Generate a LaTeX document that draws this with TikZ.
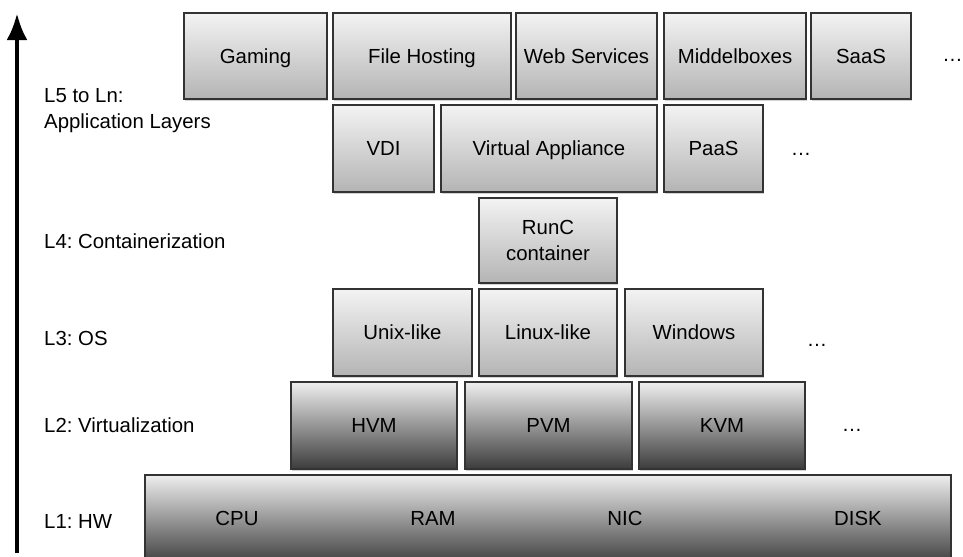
\documentclass[tikz,border=0pt]{standalone}
\usepackage{fontspec}
\setmainfont{Liberation Sans}
\usetikzlibrary{arrows.meta,shadows}

\definecolor{lighttop}{HTML}{F3F3F3}
\definecolor{lightbot}{HTML}{B4B4B4}
\definecolor{darktop}{HTML}{EEEEEE}
\definecolor{darkbot}{HTML}{3C3C3C}
\definecolor{boxline}{HTML}{333333}

\tikzset{
  layerbox/.style={draw=boxline, line width=0.8pt, rectangle, inner sep=0pt,
    align=center, text height=8.3pt, text depth=0pt,
    drop shadow={shadow xshift=0.6pt, shadow yshift=-0.9pt, opacity=0.35}},
  lightbox/.style={layerbox, top color=lighttop, bottom color=lightbot},
  darkbox/.style={layerbox, top color=darktop, bottom color=darkbot},
  boxsize/.style 2 args={minimum width=#1*0.02cm, minimum height=#2*0.02cm},
  hwpart/.style={inner sep=0pt, text height=8.3pt, text depth=0pt},
  layerlabel/.style={anchor=west, align=left},
  moredots/.style={inner sep=0pt}
}

\begin{document}
\frenchspacing
\begin{tikzpicture}[x=0.02cm, y=-0.02cm,
    font=\fontsize{11.6}{14.7}\selectfont]
   %
   \useasboundingbox (0,0) rectangle (963,556);
   \clip (0,0) rectangle (963,556);
   %
   % L5 to Ln
   \node[lightbox, boxsize={143}{86}] (gaming) at (255.5,56) {Gaming};
   \node[lightbox, boxsize={178}{86}] (filehost) at (422,56) {File Hosting};
   \node[lightbox, boxsize={141}{86}] (websvc) at (586.5,56) {Web Services};
   \node[lightbox, boxsize={142}{86}] (middlebox) at (735,56) {Middelboxes};
   \node[lightbox, boxsize={100}{86}] (saas) at (861,56) {SaaS};
   \node[moredots, anchor=west] (dotsA) at (942,60) {\dots};
   %
   \node[lightbox, boxsize={101}{87}] (vdi) at (383.5,148.5) {VDI};
   \node[lightbox, boxsize={216}{87}] (vappl) at (549,148.5) {Virtual Appliance};
   \node[lightbox, boxsize={99}{87}] (paas) at (713.5,148.5) {PaaS};
   \node[moredots] (dotsB) at (801,154) {\dots};
   %
   % L4
   \node[lightbox, boxsize={138}{85}, text height={}, text depth={}] (runc) at (548,240.5) {RunC\\container};
   %
   % L3
   \node[lightbox, boxsize={139}{87}] (unix) at (402.5,332.5) {Unix-like};
   \node[lightbox, boxsize={138}{87}] (linux) at (548,332.5) {Linux-like};
   \node[lightbox, boxsize={138}{87}] (windows) at (694,332.5) {Windows};
   \node[moredots] (dotsC) at (817,345) {\dots};
   %
   % L2
   \node[darkbox, boxsize={166}{87}] (hvm) at (374,425.5) {HVM};
   \node[darkbox, boxsize={167}{87}] (pvm) at (548.5,425.5) {PVM};
   \node[darkbox, boxsize={166}{87}] (kvm) at (722,425.5) {KVM};
   \node[moredots] (dotsD) at (852,430) {\dots};
   %
   % L1
   \node[darkbox, boxsize={806}{90}] (hw) at (548,520) {};
   \node[hwpart] (cpu) at (237,518) {CPU};
   \node[hwpart] (ram) at (433,518) {RAM};
   \node[hwpart] (nic) at (625,518) {NIC};
   \node[hwpart] (disk) at (858,518) {DISK};
   %
   % layer axis
   \coordinate (axisbot) at (17,553);
   \coordinate (axistop) at (17,13);
   \draw[line width=2.7pt, -{Latex[length=0.54cm, width=0.42cm]}] (axisbot) -- (axistop);
   %
   \node[layerlabel] (lapp) at (38,111) {L5 to Ln:\\Application Layers};
   \node[layerlabel] (lcont) at (38,241) {L4: Containerization};
   \node[layerlabel] (los) at (38,338) {L3: OS};
   \node[layerlabel] (lvirt) at (38,425) {L2: Virtualization};
   \node[layerlabel] (lhw) at (38,521) {L1: HW};
   %
\end{tikzpicture}
\end{document}
